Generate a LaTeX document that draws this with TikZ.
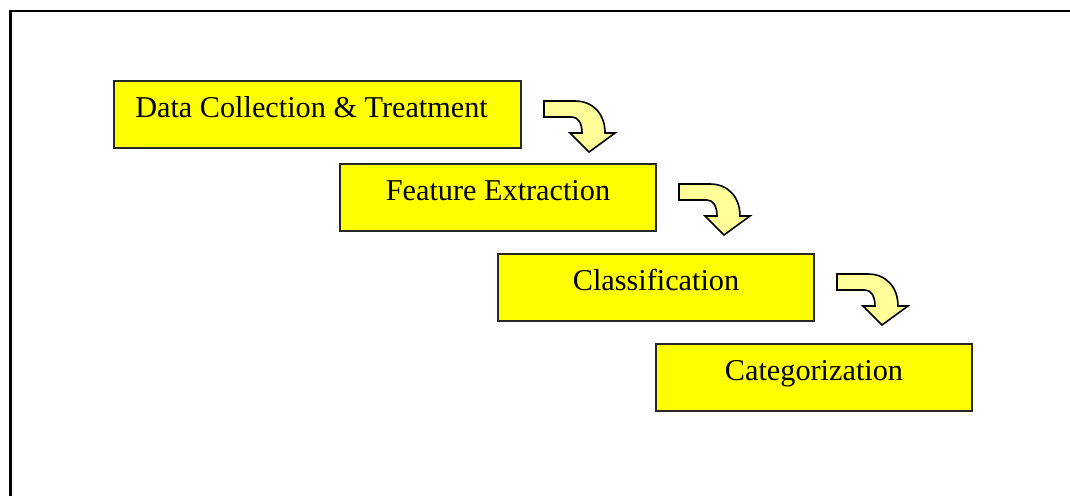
\documentclass[tikz,border=0pt]{standalone}
\usepackage{fontspec}
\setmainfont{Liberation Serif}
\usetikzlibrary{positioning}
\usepackage{xcolor}

\definecolor{boxyellow}{HTML}{FFFF00}
\definecolor{arrowyellow}{HTML}{FFFF99}

\tikzset{
    stagebox/.style={
        rectangle,
        draw=black!85,
        line width=0.018cm,
        fill=boxyellow,
        anchor=north west,
        minimum height=0.67cm,
        inner sep=0pt,
        text height=6pt,
        text depth=4pt,
        font=\fontsize{8.6}{10}\selectfont
    },
    bentarrow/.pic={
        \draw[fill=arrowyellow, line width=0.016cm, line join=miter]
            (0,0) -- (31,0) .. controls (49,0) and (61,13) .. (61,32)
            -- (71,32) -- (45,51) -- (26,32) -- (38,32)
            .. controls (38,22) and (34,16) .. (28,16) -- (0,16) -- cycle;
    }
}

\begin{document}
\begin{tikzpicture}[x=0.01cm, y=-0.01cm]
    \useasboundingbox (0,0) rectangle (1070,496);
    % page frame (top and left edge only)
    \draw[line width=0.02cm] (1070,10.5) -- (10.5,10.5) -- (10.5,496);

    \node (data_collection) [stagebox, minimum width=4.07cm] at (113,80)
    {
        Data Collection \& Treatment\hspace*{0.12cm}
    };
    \node (feature_extraction) [stagebox, minimum width=3.16cm] at (339,163)
    {
        Feature Extraction
    };
    \node (classification) [stagebox, minimum width=3.16cm] at (497,253)
    {
        Classification
    };
    \node (categorization) [stagebox, minimum width=3.16cm] at (655,343)
    {
        Categorization
    };

    \pic[shift={(22,21)}] at (data_collection.north east) {bentarrow};
    \pic[shift={(22,21)}] at (feature_extraction.north east) {bentarrow};
    \pic[shift={(22,21)}] at (classification.north east) {bentarrow};
\end{tikzpicture}
\end{document}
